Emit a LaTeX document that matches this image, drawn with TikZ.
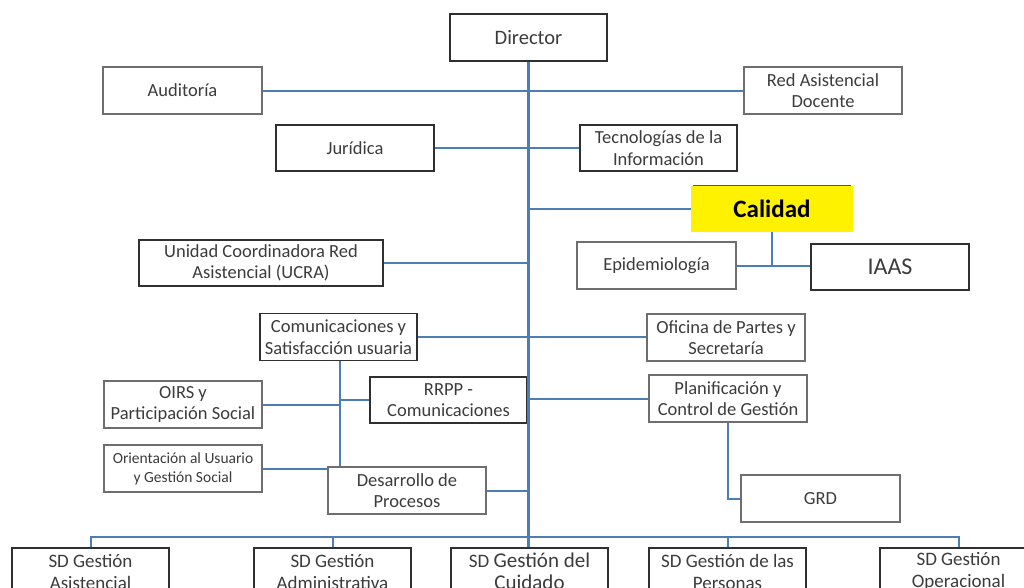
\documentclass[tikz,border=0pt]{standalone}
\usepackage{fontspec}
\setmainfont{Carlito}
\definecolor{lineblue}{HTML}{4A7EB4}
\definecolor{txtgray}{HTML}{3C3C3C}
\definecolor{darkedge}{HTML}{303030}
\definecolor{lightedge}{HTML}{6E6E6E}
\definecolor{calyellow}{HTML}{FFF200}
\tikzset{
  base/.style={rectangle, align=center, inner sep=0pt, text=txtgray,
    minimum width=157pt, minimum height=47pt,
    font=\fontsize{18.5}{21.5}\selectfont},
  darkbox/.style={base, draw=darkedge, line width=1.8pt},
  lightbox/.style={base, draw=lightedge, line width=1.3pt},
  conn/.style={draw=lineblue, line width=2pt},
  trunk/.style={draw=lineblue, line width=2.6pt},
}
\begin{document}
\begin{tikzpicture}[x=1pt,y=-1pt]
\useasboundingbox (0,0) rectangle (1024,587);
\clip (0,0) rectangle (1024,587);
\fill[white] (0,0) rectangle (1024,587);

% nodes
\node[darkbox, font=\fontsize{20.5}{22}\selectfont] (dir) at (528.5,37.5) {Director};
\node[lightbox, minimum width=159pt] (aud) at (182.5,90.5) {Auditoría};
\node[lightbox, minimum width=158pt] (red) at (823,90.5) {Red Asistencial\\Docente};
\node[darkbox, minimum width=158pt, minimum height=46pt] (jur) at (355,148) {Jurídica};
\node[darkbox, minimum height=46pt] (tec) at (658.5,148) {Tecnologías de la\\Información};
\node[base, fill=calyellow, minimum width=162pt, minimum height=46pt, text=black,
  font=\fontsize{25}{27}\selectfont\bfseries] (cal) at (772,209) {Calidad};
\draw[darkedge!80, line width=1pt] ([xshift=2pt]cal.north west) -- ([xshift=-2pt]cal.north east);
\node[lightbox, minimum width=159pt] (epi) at (656.5,265.5) {Epidemiología};
\node[darkbox, minimum width=158pt, minimum height=46pt, font=\fontsize{24}{26}\selectfont] (iaas) at (890,267) {IAAS};
\node[darkbox, minimum width=244pt, minimum height=46pt] (ucra) at (261,263) {Unidad Coordinadora Red\\Asistencial (UCRA)};
\node[darkbox] (com) at (338.5,337) {Comunicaciones y\\Satisfacción usuaria};
\node[lightbox, minimum width=158pt] (ofi) at (726,337.5) {Oficina de Partes y\\Secretaría};
\node[darkbox, minimum height=46pt] (rrpp) at (448.5,400) {RRPP -\\Comunicaciones};
\node[lightbox, minimum width=158pt] (oirs) at (183,404.5) {OIRS y\\Participación Social};
\node[lightbox, minimum width=158pt] (pla) at (728,398.5) {Planificación y\\Control de Gestión};
\node[lightbox, minimum width=158pt, font=\fontsize{15.5}{19}\selectfont] (ori) at (183,468.5) {Orientación al Usuario\\y Gestión Social};
\node[lightbox, minimum width=158pt] (des) at (407,490.5) {Desarrollo de\\Procesos};
\node[lightbox, minimum width=159pt] (grd) at (820.5,498.5) {GRD};
\node[darkbox, font=\fontsize{19}{22}\selectfont] (sd1) at (90.5,571.5) {SD Gestión\\Asistencial};
\node[darkbox, font=\fontsize{19}{22}\selectfont] (sd2) at (332.5,571.5) {SD Gestión\\Administrativa};
\node[darkbox, font=\fontsize{19}{22}\selectfont] (sd3) at (529.5,571.5) {SD {\fontsize{21}{22}\selectfont Gestión del}\\{\fontsize{21}{22}\selectfont Cuidado}};
\node[darkbox, font=\fontsize{19}{22}\selectfont] (sd4) at (727.5,571.5) {SD Gestión de las\\Personas};
\node[darkbox, font=\fontsize{19}{22}\selectfont] (sd5) at (958.5,571.5) {SD Gestión\\Operacional};

% connectors
\coordinate (bus) at (529,537);
\draw[conn] (aud.east) -- (red.west);
\draw[conn] (jur.east) -- (tec.west);
\draw[conn] (dir.south |- cal.west) -- (cal.west);
\draw[conn] (ucra.east) -- (ucra.east -| dir.south);
\draw[conn] (com.east) -- (com.east -| ofi.west);
\draw[conn] (pla.west -| dir.south) -- (pla.west);
\draw[conn] (des.east) -- (des.east -| dir.south);
\draw[conn] (cal.south) -- (cal.south |- iaas.west);
\draw[conn] (epi.east) -- (epi.east -| iaas.west);
\draw[conn] ([xshift=1.5pt]com.south) -- ([xshift=1.5pt]com.south |- des.north);
\draw[conn] (oirs.east) -- ([xshift=1.5pt]com.south |- oirs.east);
\draw[conn] ([xshift=1.5pt]com.south |- rrpp.west) -- (rrpp.west);
\draw[conn] (ori.east) -- (ori.east -| des.west);
\draw[conn] (pla.south) |- (grd.west);
\draw[conn] (sd1.north) |- (bus) -| (sd5.north);
\draw[conn] (sd2.north) -- (sd2.north |- bus);
\draw[conn] (sd4.north) -- (sd4.north |- bus);
\draw[trunk] (dir.south) -- (dir.south |- sd3.north);
\end{tikzpicture}
\end{document}
